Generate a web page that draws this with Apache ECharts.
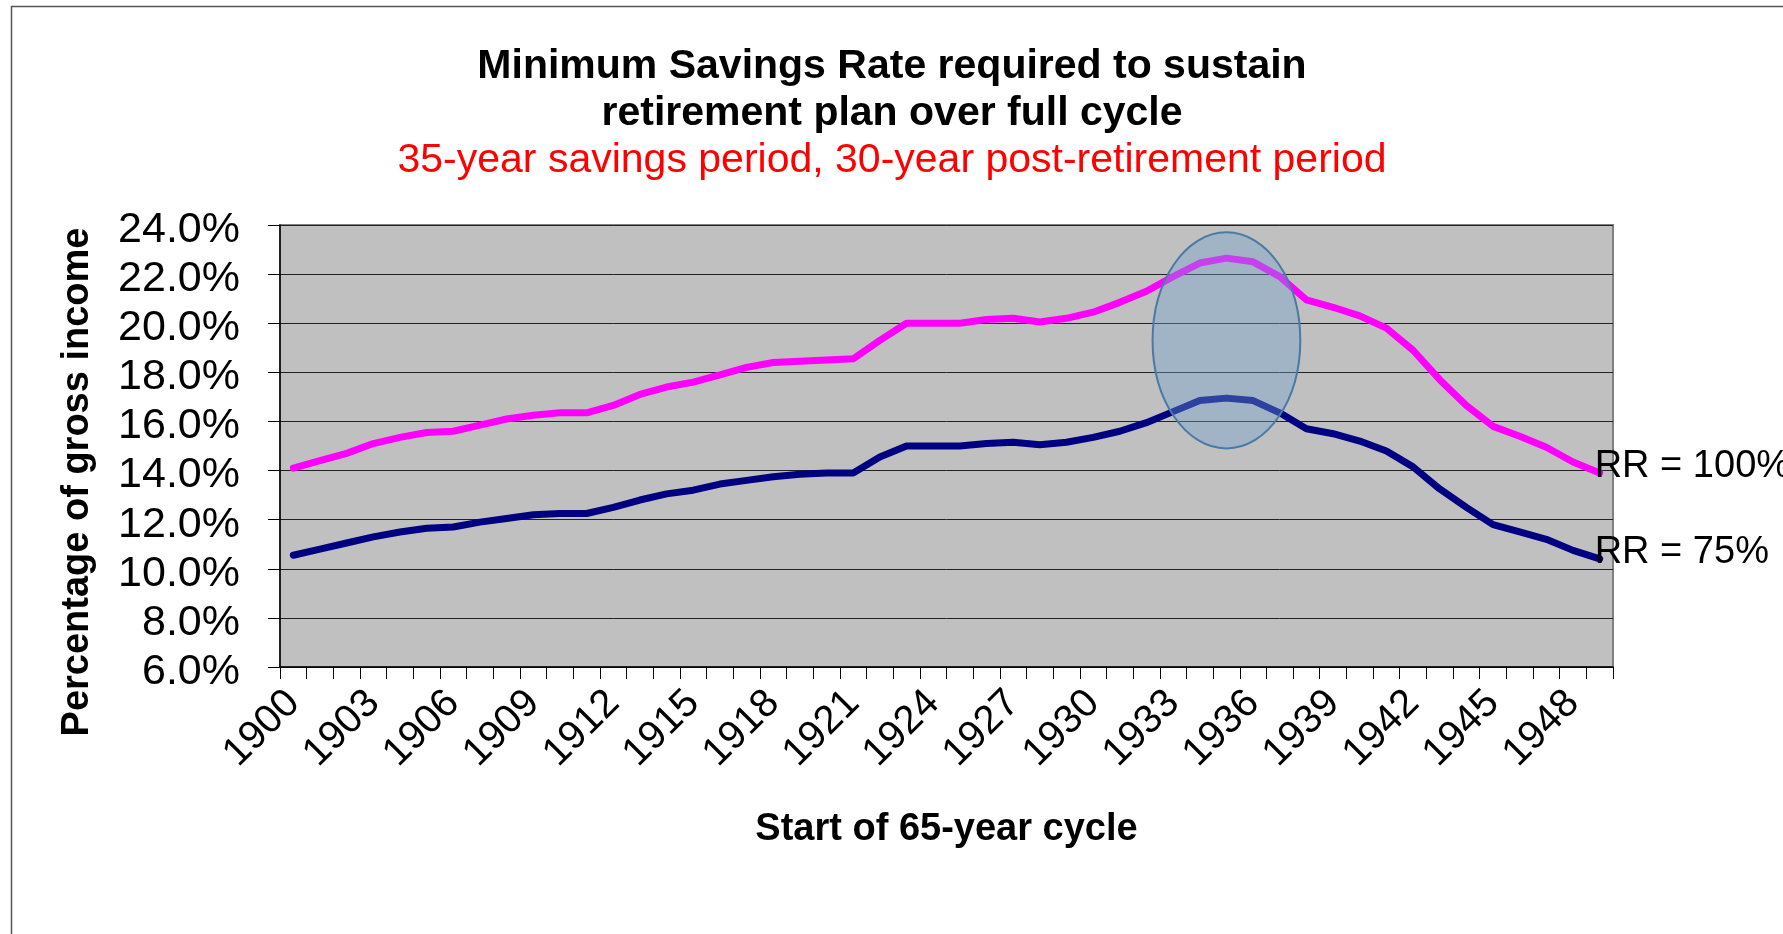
<!DOCTYPE html>
<html>
<head>
<meta charset="utf-8">
<script src="https://cdn.jsdelivr.net/npm/echarts@6/dist/echarts.min.js"></script>
<style>
  html, body { margin: 0; padding: 0; background: #fff; }
  #chart { width: 1783px; height: 934px; }
</style>
</head>
<body>
<div id="chart"></div>
<script>
var myChart = echarts.init(document.getElementById('chart'));

var FONT = 'Liberation Sans, Arial, sans-serif';

// start year of each 65-year cycle
var years = [];
for (var y = 1900; y <= 1949; y++) years.push(String(y));

// minimum savings rate (%), replacement rate 100%
var rr100 = [
    14.1, 14.4, 14.7, 15.1, 15.35, 15.55, 15.6, 15.85, 16.1, 16.25,
    16.35, 16.35, 16.65, 17.1, 17.4, 17.6, 17.9, 18.2, 18.4, 18.45,
    18.5, 18.55, 19.3, 20.0, 20.0, 20.0, 20.15, 20.2, 20.05, 20.2,
    20.45, 20.85, 21.3, 21.9, 22.45, 22.65, 22.5, 21.9, 20.95, 20.65,
    20.3, 19.8, 18.9, 17.7, 16.65, 15.8, 15.4, 14.95, 14.35, 13.9
];

// minimum savings rate (%), replacement rate 75%
var rr75 = [
    10.55, 10.8, 11.05, 11.3, 11.5, 11.65, 11.7, 11.9, 12.05, 12.2,
    12.25, 12.25, 12.5, 12.8, 13.05, 13.2, 13.45, 13.6, 13.75, 13.85,
    13.9, 13.9, 14.55, 15.0, 15.0, 15.0, 15.1, 15.15, 15.05, 15.15,
    15.35, 15.6, 15.95, 16.4, 16.85, 16.95, 16.85, 16.35, 15.7, 15.5,
    15.2, 14.8, 14.15, 13.25, 12.5, 11.8, 11.5, 11.2, 10.75, 10.4
];

// highlighted peak: centre (category index, value) and half sizes
var peakIndex = 35;
var peakValue = 19.3;
var peakHalfYears = 2.77;
var peakHalfPct = 4.4;

myChart.setOption({
    backgroundColor: '#fff',
    animation: false,
    title: [
        {
            text: 'Minimum Savings Rate required to sustain\nretirement plan over full cycle',
            left: 887,
            textAlign: 'center',
            top: 38,
            textStyle: {
                fontFamily: FONT,
                fontSize: 41,
                fontWeight: 'bold',
                color: '#000',
                lineHeight: 47
            }
        },
        {
            text: '35-year savings period, 30-year post-retirement period',
            left: 887,
            textAlign: 'center',
            top: 132,
            textStyle: {
                fontFamily: FONT,
                fontSize: 41,
                fontWeight: 'normal',
                color: '#ff0000',
                lineHeight: 47
            }
        }
    ],
    grid: {
        left: 280,
        top: 225,
        right: 170,
        bottom: 267,
        show: true,
        backgroundColor: '#c0c0c0',
        borderColor: '#808080',
        borderWidth: 2
    },
    xAxis: {
        type: 'category',
        data: years,
        boundaryGap: true,
        name: 'Start of 65-year cycle',
        nameLocation: 'middle',
        nameGap: 144,
        nameTextStyle: {
            fontFamily: FONT,
            fontSize: 38,
            fontWeight: 'bold',
            color: '#000'
        },
        axisLine: {lineStyle: {color: '#000', width: 1.5}},
        axisTick: {
            show: true,
            interval: 0,
            length: 12,
            lineStyle: {color: '#000'}
        },
        axisLabel: {
            interval: 2,
            rotate: 45,
            margin: 30,
            fontFamily: FONT,
            fontSize: 40,
            color: '#000'
        },
        splitLine: {show: false}
    },
    yAxis: {
        type: 'value',
        min: 6,
        max: 24,
        interval: 2,
        name: 'Percentage of gross income',
        nameLocation: 'middle',
        nameGap: 183,
        nameTextStyle: {
            fontFamily: FONT,
            fontSize: 38,
            fontWeight: 'bold',
            color: '#000',
            padding: [0, 72, 0, 0]
        },
        axisLine: {show: true, lineStyle: {color: '#000', width: 1.5}},
        axisTick: {show: true, length: 12, lineStyle: {color: '#000'}},
        axisLabel: {
            margin: 40,
            formatter: function (v) {
                return '{p|' + v.toFixed(1) + '%}';
            },
            rich: {
                p: {
                    fontFamily: FONT,
                    fontSize: 43,
                    color: '#000',
                    padding: [10, 0, 0, 0]
                }
            }
        },
        splitLine: {show: true, lineStyle: {color: '#222', width: 1}}
    },
    series: [
        {
            name: 'RR = 100%',
            type: 'line',
            data: rr100,
            symbol: 'none',
            lineStyle: {color: '#ff00ff', width: 7, cap: 'round', join: 'round'},
            endLabel: {
                show: true,
                formatter: 'RR = 100%',
                distance: 0,
                offset: [-5, -6],
                fontFamily: FONT,
                fontSize: 38,
                color: '#000'
            }
        },
        {
            name: 'RR = 75%',
            type: 'line',
            data: rr75,
            symbol: 'none',
            lineStyle: {color: '#000080', width: 7, cap: 'round', join: 'round'},
            endLabel: {
                show: true,
                formatter: 'RR = 75%',
                distance: 0,
                offset: [-5, -6],
                fontFamily: FONT,
                fontSize: 38,
                color: '#000'
            }
        }
    ]
});

// ellipse placed through the grid's own scale
var c = myChart.convertToPixel({gridIndex: 0}, [peakIndex, peakValue]);
var e = myChart.convertToPixel({gridIndex: 0}, [peakIndex + 1, peakValue + peakHalfPct]);
var rx = (e[0] - c[0]) * peakHalfYears;
var ry = c[1] - e[1];

myChart.setOption({
    graphic: [
        {
            type: 'rect',
            z: -10,
            shape: {x: 11.5, y: 6.5, width: 1900, height: 1000},
            style: {fill: 'none', stroke: '#555', lineWidth: 1.5}
        },
        {
            type: 'ellipse',
            z: 100,
            shape: {cx: c[0], cy: c[1], rx: rx, ry: ry},
            style: {
                fill: 'rgba(112,162,207,0.4)',
                stroke: '#4a7aa3',
                lineWidth: 2
            }
        }
    ]
});
</script>
</body>
</html>
